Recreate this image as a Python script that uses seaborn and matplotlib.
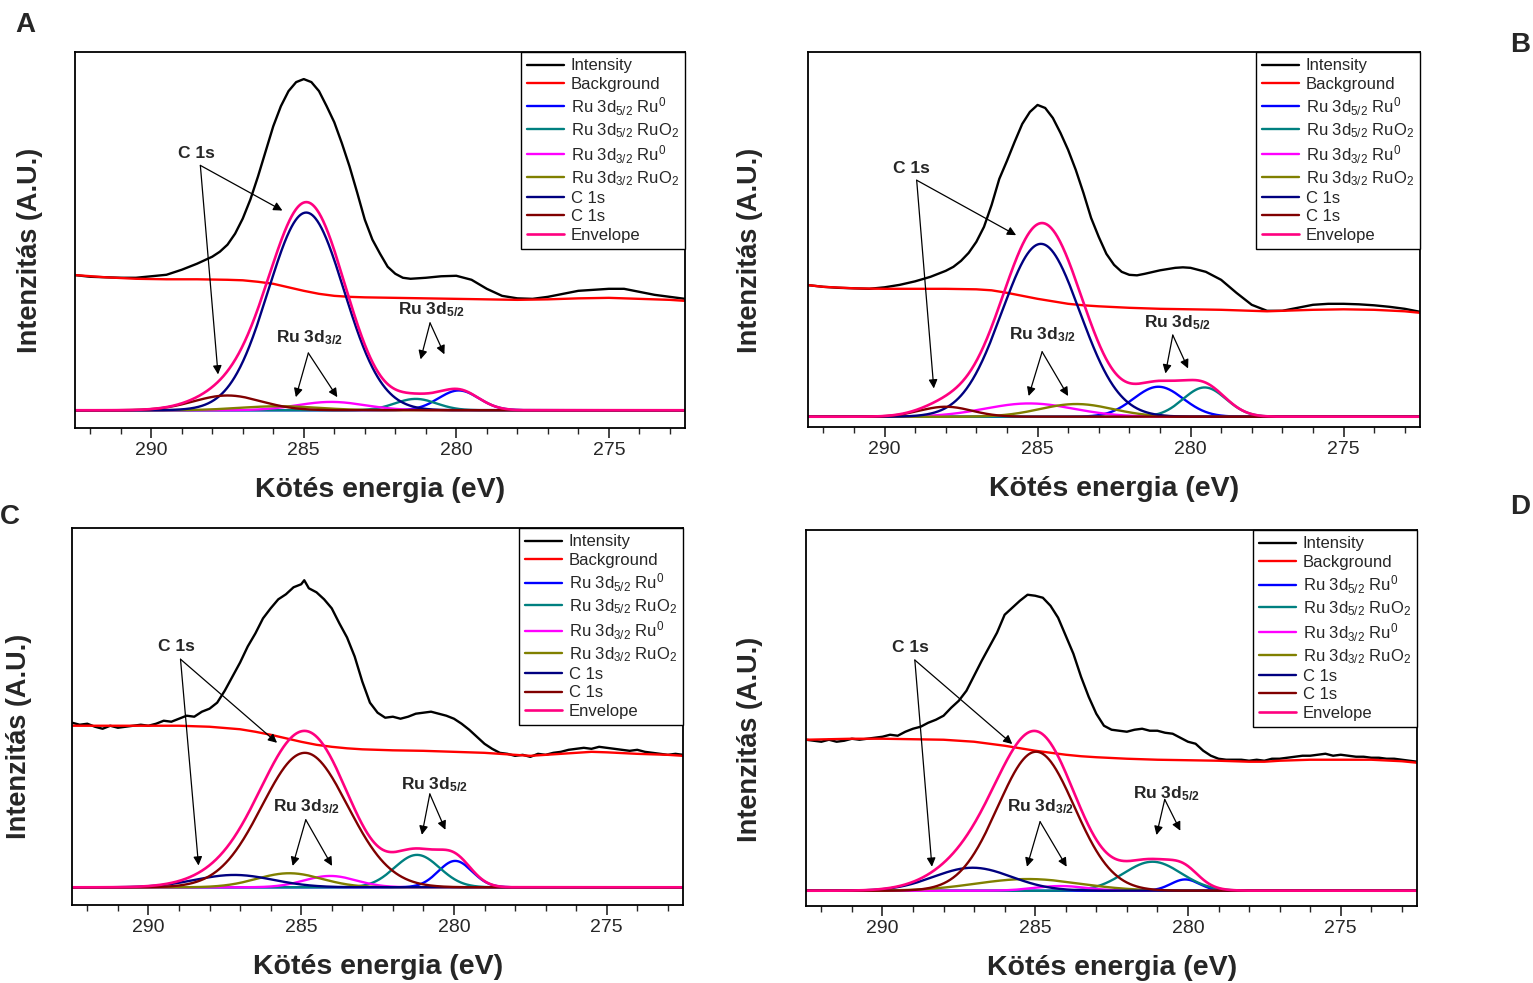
import numpy as np
import pandas as pd
import matplotlib
matplotlib.use("Agg")
import matplotlib.pyplot as plt
import seaborn as sns

# ---------------- data (energies in eV, intensities in arbitrary units) ----------------
# Panel A
A_int_E = [292.5, 292, 291.5, 291, 290.5, 290, 289.5, 289, 288.5, 288, 287.75, 287.5, 287.25, 287, 286.75,
           286.5, 286.25, 286, 285.75, 285.5, 285.25, 285, 284.75, 284.5, 284.25, 284, 283.75, 283.5, 283.25,
           283, 282.75, 282.5, 282.25, 282, 281.75, 281.5, 281, 280.5, 280, 279.5, 279, 278.5, 278, 277.5,
           277, 276.5, 276, 275.5, 275, 274.5, 274, 273.5, 273, 272.5]
A_int_I = [134.7, 133, 132.5, 132, 132, 133.5, 135, 140, 146, 153, 158, 165, 176, 191, 210,
           233, 258, 283, 303, 318, 327, 330, 327, 318, 303, 287, 266, 243, 217,
           190, 170, 156, 143, 136, 132, 131, 132, 133.5, 134, 130, 121, 114, 111.5, 111,
           113, 116, 119, 120, 121, 121, 118, 115, 113, 111]
A_bg_E = [292.5, 291.5, 290.5, 289.5, 288.5, 287.5, 287, 286.5, 286, 285.5, 285, 284.5, 284, 283.5, 283, 282,
          281, 280, 279, 278, 277, 276, 275, 274, 273, 272.5]
A_bg_I = [134.7, 132.5, 131, 130.5, 130.5, 130, 129.5, 128, 126, 122.5, 119, 116, 114, 113, 112.5, 112,
          111.5, 111, 110.5, 110, 110.5, 111.5, 112, 111, 110, 109]

# Panel B
B_int_E = [292.5, 292, 291.5, 291, 290.5, 290, 289.5, 289, 288.5, 288, 287.75, 287.5, 287.25, 287, 286.75,
           286.5, 286.25, 286, 285.75, 285.5, 285.25, 285, 284.75, 284.5, 284.25, 284, 283.75, 283.5, 283.25,
           283, 282.75, 282.5, 282.25, 282, 281.75, 281.5, 281, 280.5, 280.25, 280, 279.5, 279, 278.5, 278,
           277.5, 277, 276.5, 276, 275.5, 275, 274.5, 274, 273.5, 273, 272.5]
B_int_I = [131.7, 130, 129, 128.5, 128, 129.5, 132, 135.5, 140, 146, 150, 156, 164, 175, 190,
           212, 238, 256, 275, 293, 305, 312, 309, 299, 284, 267, 247, 224, 199,
           180, 163, 152, 145, 142, 141.5, 143, 146.5, 149, 149.5, 149, 145, 137, 124, 112,
           106, 106, 109, 112, 113, 113, 112.5, 111.5, 110, 108, 105]
B_bg_E = [292.5, 292, 291, 290, 289, 288, 287, 286.5, 286, 285.5, 285, 284.5, 284, 283.5, 283, 282,
          281, 280, 279, 278, 277.5, 277, 276, 275, 274, 273, 272.5]
B_bg_I = [131.7, 130, 128.5, 128, 128, 128, 127.5, 126.5, 124, 121, 118, 115.5, 113, 111.5, 110.5, 109,
          108, 107.5, 107, 106, 105.5, 106, 107, 107.5, 107, 105.5, 104]

# Panel C
C_int_E = [292.5, 292.25, 292, 291.75, 291.5, 291.25, 291, 290.75, 290.5, 290.25, 290, 289.75, 289.5, 289.25,
           289, 288.75, 288.5, 288.25, 288, 287.75, 287.5, 287.25, 287, 286.75, 286.5, 286.25, 286, 285.75,
           285.5, 285.25, 285, 284.9, 284.75, 284.5, 284.25, 284, 283.75, 283.5, 283.25, 283, 282.75, 282.5,
           282.25, 282, 281.75, 281.5, 281.25, 281, 280.75, 280.5, 280.25, 280, 279.75, 279.5, 279.25, 279,
           278.75, 278.5, 278.25, 278, 277.75, 277.5, 277.25, 277, 276.75, 276.5, 276.25, 276, 275.75, 275.5,
           275.25, 275, 274.75, 274.5, 274.25, 274, 273.75, 273.5, 273.25, 273, 272.75, 272.5]
C_int_I = [164, 162, 163, 160, 158, 161, 159, 160, 161, 162, 161, 163, 166, 165,
           168, 171, 170, 175, 178, 184, 196, 210, 224, 240, 253, 268, 278, 287,
           292, 299, 302, 306, 298, 294, 287, 278, 263, 249, 230, 205, 184, 174,
           169, 170, 168, 170, 173, 174, 175, 173, 171, 168, 163, 157, 150, 143,
           138, 134, 133, 131, 132, 130, 133, 132, 134, 135, 137, 138, 139, 138,
           140, 139, 138, 137, 136, 137, 135, 134, 133, 132, 133, 132]
C_bg_E = [292.5, 290, 289, 288, 287, 286.5, 286, 285.5, 285, 284.5, 284, 283.5, 283, 282, 281, 280,
          279, 278, 277.5, 277, 276, 275.5, 275, 274, 273, 272.5]
C_bg_I = [161, 161, 161, 160, 157.5, 155, 152, 148.5, 145, 142, 140, 138.5, 137.5, 136.5, 136, 135,
          134, 132, 131, 132, 134, 135, 134.5, 133, 132, 131]

# Panel D
D_int_E = C_int_E[:30] + [285, 284.75, 284.5, 284.25, 284, 283.75, 283.5, 283.25, 283, 282.75, 282.5,
                          282.25, 282, 281.75, 281.5, 281.25, 281, 280.75, 280.5, 280.25, 280, 279.75,
                          279.5, 279.25, 279, 278.75, 278.5, 278.25, 278, 277.75, 277.5, 277.25, 277,
                          276.75, 276.5, 276.25, 276, 275.75, 275.5, 275.25, 275, 274.75, 274.5, 274.25,
                          274, 273.75, 273.5, 273.25, 273, 272.75, 272.5]
D_int_I = [151, 150, 149, 151, 149, 150, 152, 151, 152, 153, 154, 156, 155, 159,
           162, 164, 168, 171, 175, 183, 190, 200, 215, 230, 244, 258, 276, 283,
           290, 296, 295, 293, 285, 273, 255, 237, 214, 194, 177, 165, 161,
           160, 159, 161, 162, 160, 160, 158, 157, 153, 149, 147,
           140, 135, 132, 131, 131, 131, 130, 131, 130, 132, 132,
           133, 134, 135, 135, 136, 137, 135, 136, 135, 134, 134,
           133, 133, 132, 132, 131, 130, 129]
D_bg_E = [292.5, 291, 290, 289, 288, 287.5, 287, 286.5, 286, 285.5, 285, 284.5, 284, 283.5, 283, 282,
          281, 280, 279, 278, 277.5, 277, 276, 275, 274, 273, 272.5]
D_bg_I = [151, 152, 152, 151.5, 151, 150, 149, 147, 145, 142.5, 140, 138, 136, 134.5, 133.5, 132,
          131, 130.5, 130, 129, 129, 130, 131, 131, 131, 129.5, 128]

# Fitted components: order = Ru3d5/2 Ru0, Ru3d5/2 RuO2, Ru3d3/2 Ru0, Ru3d3/2 RuO2, C 1s, C 1s
A_center = [279.92, 281.33, 284.10, 285.80, 284.92, 287.50]
A_height = [19.7, 11.3, 8.3, 4.0, 197.0, 14.7]
A_fwhm = [1.55, 1.60, 2.60, 3.00, 2.92, 2.60]

B_center = [281.05, 279.54, 285.27, 283.73, 284.89, 288.00]
B_height = [30.0, 29.3, 13.3, 12.7, 173.0, 10.0]
B_fwhm = [1.90, 1.65, 3.40, 2.80, 3.00, 2.00]

C_center = [279.96, 281.21, 284.05, 285.39, 287.19, 284.88]
C_height = [26.3, 32.3, 11.3, 14.0, 12.3, 134.0]
C_fwhm = [1.30, 1.73, 2.00, 2.50, 3.00, 3.30]

D_center = [280.09, 281.16, 284.17, 285.24, 287.05, 284.97]
D_height = [11.3, 29.0, 4.7, 11.7, 23.0, 139.0]
D_fwhm = [1.10, 2.20, 2.00, 4.00, 3.00, 2.94]

legend_labels = ["Intensity", "Background",
                 r"Ru 3d$_{5/2}$ Ru$^{0}$", r"Ru 3d$_{5/2}$ RuO$_{2}$",
                 r"Ru 3d$_{3/2}$ Ru$^{0}$", r"Ru 3d$_{3/2}$ RuO$_{2}$",
                 "C 1s", "C 1s", "Envelope"]
panel_letters = ["A", "B", "C", "D"]
x_ticks = [290, 285, 280, 275]

# annotation anchor points (energy, intensity): text, arrow start, arrow ends
ann = {
    "A": dict(c1s=(288.52, 255.7), c1s_from=(288.39, 244), c1s_to=[(285.70, 199), (287.81, 35.7)],
              r32=(284.83, 72), r32_from=(284.85, 57), r32_to=[(285.26, 13), (283.90, 13)],
              r52=(280.80, 100.7), r52_from=(280.86, 87), r52_to=[(281.17, 50.7), (280.39, 55.7)]),
    "B": dict(c1s=(289.12, 248), c1s_from=(288.95, 236.7), c1s_to=[(285.70, 181.7), (288.39, 28.3)],
              r32=(284.83, 81.7), r32_from=(284.85, 65), r32_to=[(285.29, 20.7), (284.00, 20.7)],
              r52=(280.44, 94), r52_from=(280.58, 81.7), r52_to=[(280.82, 43.3), (280.08, 48.3)]),
    "C": dict(c1s=(289.08, 239.7), c1s_from=(288.95, 227.3), c1s_to=[(285.79, 144), (288.36, 21.7)],
              r32=(284.83, 80.7), r32_from=(284.85, 67.3), r32_to=[(285.28, 21.3), (283.99, 21.3)],
              r52=(280.65, 102.3), r52_from=(280.79, 93), r52_to=[(281.05, 52.3), (280.28, 57.3)]),
    "D": dict(c1s=(289.09, 243), c1s_from=(288.94, 230.7), c1s_to=[(285.75, 146.7), (288.38, 24)],
              r32=(284.84, 84), r32_from=(284.84, 69), r32_to=[(285.27, 24), (283.97, 24)],
              r52=(280.70, 97.3), r52_from=(280.76, 91.3), r52_to=[(281.03, 55.7), (280.25, 60)]),
}

# ---------------- style ----------------
sns.set_style("ticks")
plt.rcParams["font.family"] = ["Liberation Sans", "DejaVu Sans"]
plt.rcParams["mathtext.fontset"] = "custom"
plt.rcParams["mathtext.rm"] = "Liberation Sans"
plt.rcParams["mathtext.it"] = "Liberation Sans:italic"
plt.rcParams["mathtext.bf"] = "Liberation Sans:bold"
plt.rcParams["mathtext.default"] = "regular"

comp_colors = ["#0000FF", "#008080", "#FF00FF", "#808000", "#000080", "#800000"]
int_color = "#000000"
bg_color = "#FF0000"
env_color = "#FF0080"

panels = [
    ("A", A_int_E, A_int_I, A_bg_E, A_bg_I, A_center, A_height, A_fwhm, [0.0489, 0.5646, 0.3980, 0.3825], (-17.7, 357), (-0.052, 0.473)),
    ("B", B_int_E, B_int_I, B_bg_E, B_bg_I, B_center, B_height, B_fwhm, [0.5271, 0.5656, 0.3992, 0.3815], (-10.3, 365), (-0.0735, 0.472)),
    ("C", C_int_E, C_int_I, C_bg_E, C_bg_I, C_center, C_height, C_fwhm, [0.0470, 0.0793, 0.3986, 0.3835], (-17.7, 358), (-0.0655, 0.448)),
    ("D", D_int_E, D_int_I, D_bg_E, D_bg_I, D_center, D_height, D_fwhm, [0.5258, 0.0783, 0.3986, 0.3825], (-15.3, 360.7), (-0.070, 0.444)),
]

fig = plt.figure(figsize=(15.33, 9.83), dpi=100)
grid = np.linspace(292.5, 272.5, 1201)

for key, iE, iI, bE, bI, cen, hgt, fw, pos, ylim, ylab_xy in panels:
    ax = fig.add_axes(pos)
    sns.lineplot(x=iE, y=iI, ax=ax, color=int_color, lw=1.7, label=legend_labels[0], estimator=None)
    sns.lineplot(x=bE, y=bI, ax=ax, color=bg_color, lw=1.7, label=legend_labels[1], estimator=None)
    env = np.zeros_like(grid)
    for k in range(6):
        sig = fw[k] / 2.3548
        comp = hgt[k] * np.exp(-0.5 * ((grid - cen[k]) / sig) ** 2)
        env += comp
        sns.lineplot(x=grid, y=comp, ax=ax, color=comp_colors[k], lw=1.7,
                     label=legend_labels[2 + k], estimator=None)
    sns.lineplot(x=grid, y=env, ax=ax, color=env_color, lw=1.9, label=legend_labels[8], estimator=None)

    ax.set_xlim(292.5, 272.5)
    ax.set_ylim(*ylim)
    ax.set_xticks(x_ticks)
    ax.set_xticks(np.arange(273, 293, 1), minor=True)
    ax.tick_params(axis="x", which="major", direction="out", length=7, width=1.2, labelsize=14,
                   top=False, pad=3)
    ax.tick_params(axis="x", which="minor", direction="out", length=4, width=1.0, top=False)
    ax.set_yticks([])
    for sp in ax.spines.values():
        sp.set_linewidth(1.3)
        sp.set_color("black")
        sp.set_visible(True)
    ax.set_xlabel("Kötés energia (eV)", fontsize=20.5, fontweight="bold", labelpad=13)
    ax.set_ylabel("Intenzitás (A.U.)", fontsize=19.5, fontweight="bold")
    ax.yaxis.set_label_coords(*ylab_xy)

    h, l = ax.get_legend_handles_labels()
    leg = ax.legend(h, l, loc="upper right", fontsize=12, frameon=True, fancybox=False,
                    edgecolor="black", framealpha=1, borderaxespad=0.0, handlelength=2.2,
                    handletextpad=0.4, labelspacing=0.2, borderpad=0.38)
    leg.get_frame().set_linewidth(1.0)

    a = ann[key]
    ax.text(*a["c1s"], "C 1s", ha="center", va="center", fontsize=12.5, fontweight="bold")
    ax.text(*a["r32"], r"Ru 3d$_{\mathbf{3/2}}$", ha="center", va="center", fontsize=12.5, fontweight="bold")
    ax.text(*a["r52"], r"Ru 3d$_{\mathbf{5/2}}$", ha="center", va="center", fontsize=12.5, fontweight="bold")
    for src, dsts in (("c1s_from", "c1s_to"), ("r32_from", "r32_to"), ("r52_from", "r52_to")):
        for d in a[dsts]:
            ax.annotate("", xy=d, xytext=a[src],
                        arrowprops=dict(arrowstyle="-|>", color="black", lw=0.9,
                                        mutation_scale=13, shrinkA=0, shrinkB=0))

letter_pos = {"A": (25, 25), "B": (1520, 45), "C": (10, 517), "D": (1520, 507)}
for k, (px, py) in letter_pos.items():
    fig.text(px / 1533, 1 - py / 983, k, ha="center", va="center", fontsize=20, fontweight="bold")

fig.savefig("out.png", dpi=100)
